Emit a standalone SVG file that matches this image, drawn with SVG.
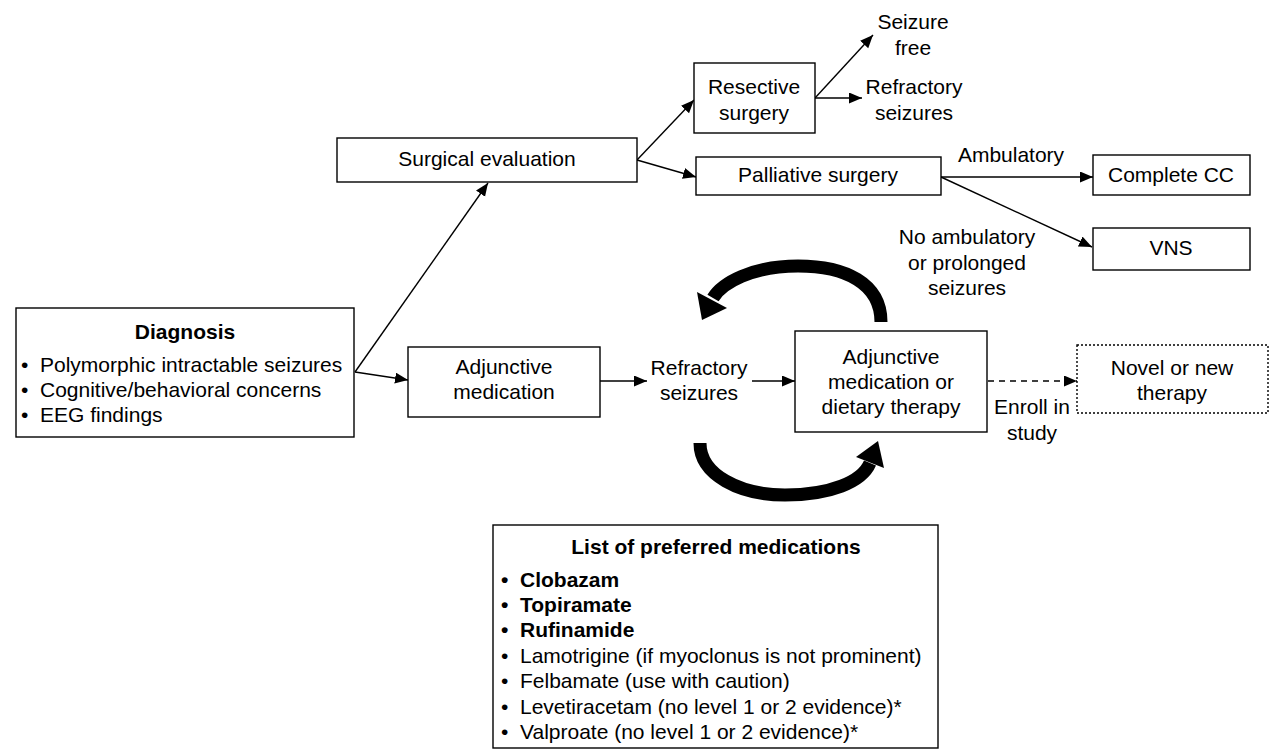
<svg xmlns="http://www.w3.org/2000/svg" width="1270" height="751" viewBox="0 0 1270 751">
<defs>
<style>
text{font-family:"Liberation Sans",Arial,sans-serif;font-size:21px;fill:#000}
.c{text-anchor:middle}
.b{font-weight:bold}
.box{fill:#fff;stroke:#000;stroke-width:1.4}
.dot{fill:#fff;stroke:#000;stroke-width:1.4;stroke-dasharray:2 2}
.ln{fill:none;stroke:#000;stroke-width:1.4}
.dash{fill:none;stroke:#000;stroke-width:1.4;stroke-dasharray:6 5}
.thick{fill:none;stroke:#000;stroke-width:13}
</style>
<marker id="ah" markerUnits="userSpaceOnUse" markerWidth="14" markerHeight="12" refX="13" refY="5.5" orient="auto">
<path d="M0,0 L13,5.5 L0,11 z" fill="#000"/>
</marker>
</defs>
<rect width="1270" height="751" fill="#fff"/>

<g id="connectors">
<line class="ln" x1="355" y1="372" x2="488" y2="183" marker-end="url(#ah)"/>
<line class="ln" x1="355" y1="372" x2="408" y2="380" marker-end="url(#ah)"/>
<line class="ln" x1="637" y1="160" x2="694" y2="100" marker-end="url(#ah)"/>
<line class="ln" x1="637" y1="160" x2="696" y2="177" marker-end="url(#ah)"/>
<line class="ln" x1="815" y1="98" x2="873" y2="35" marker-end="url(#ah)"/>
<line class="ln" x1="815" y1="98" x2="862" y2="98" marker-end="url(#ah)"/>
<line class="ln" x1="941" y1="177" x2="1093" y2="177" marker-end="url(#ah)"/>
<line class="ln" x1="941" y1="177" x2="1092" y2="247" marker-end="url(#ah)"/>
<line class="ln" x1="600" y1="381" x2="647" y2="381" marker-end="url(#ah)"/>
<line class="ln" x1="752" y1="381" x2="795" y2="381" marker-end="url(#ah)"/>
<line class="dash" x1="988" y1="381" x2="1077" y2="381" marker-end="url(#ah)"/>
<path class="thick" d="M881 322 C881 283 845 266 798 266 C752 266 722 283 713 298"/>
<polygon points="727,308 697,292 702,320" fill="#000"/>
<path class="thick" d="M700 443 C700 475 740 495 785 495 C830 495 862 482 870 463"/>
<polygon points="884,468 856,457 878,441" fill="#000"/>
</g>

<g id="diagnosis">
<rect class="box" x="16" y="308" width="338" height="129"/>
<text class="c b" x="185" y="339">Diagnosis</text>
<text><tspan x="21" y="372">•</tspan><tspan x="40" y="372">Polymorphic intractable seizures</tspan></text>
<text><tspan x="21" y="397">•</tspan><tspan x="40" y="397">Cognitive/behavioral concerns</tspan></text>
<text><tspan x="21" y="422">•</tspan><tspan x="40" y="422">EEG findings</tspan></text>
</g>

<g id="surgical-evaluation">
<rect class="box" x="337" y="138" width="300" height="44"/>
<text class="c" x="487" y="166">Surgical evaluation</text>
</g>

<g id="resective-surgery">
<rect class="box" x="694" y="63" width="121" height="70"/>
<text class="c" x="754" y="94">Resective</text>
<text class="c" x="754" y="120">surgery</text>
</g>

<g id="seizure-free">
<text class="c" x="913" y="29">Seizure</text>
<text class="c" x="913" y="55">free</text>
</g>

<g id="refractory-seizures-top">
<text class="c" x="914" y="94">Refractory</text>
<text class="c" x="914" y="120">seizures</text>
</g>

<g id="palliative-surgery">
<rect class="box" x="696" y="157" width="245" height="38"/>
<text class="c" x="818" y="182">Palliative surgery</text>
</g>

<g id="labels-palliative">
<text class="c" x="1011" y="162">Ambulatory</text>
<text class="c" x="967" y="244">No ambulatory</text>
<text class="c" x="967" y="270">or prolonged</text>
<text class="c" x="967" y="295">seizures</text>
</g>

<g id="complete-cc">
<rect class="box" x="1093" y="155" width="157" height="40"/>
<text class="c" x="1171" y="182">Complete CC</text>
</g>

<g id="vns">
<rect class="box" x="1093" y="228" width="157" height="42"/>
<text class="c" x="1171" y="255">VNS</text>
</g>

<g id="adjunctive-medication">
<rect class="box" x="408" y="347" width="192" height="70"/>
<text class="c" x="504" y="374">Adjunctive</text>
<text class="c" x="504" y="399">medication</text>
</g>

<g id="refractory-seizures">
<text class="c" x="699" y="375">Refractory</text>
<text class="c" x="699" y="400">seizures</text>
</g>

<g id="adjunctive-or-dietary">
<rect class="box" x="795" y="331" width="192" height="101"/>
<text class="c" x="891" y="364">Adjunctive</text>
<text class="c" x="891" y="389">medication or</text>
<text class="c" x="891" y="414">dietary therapy</text>
</g>

<g id="enroll-label">
<text class="c" x="1032" y="414">Enroll in</text>
<text class="c" x="1032" y="440">study</text>
</g>

<g id="novel-therapy">
<rect class="dot" x="1077" y="345" width="191" height="68"/>
<text class="c" x="1172" y="375">Novel or new</text>
<text class="c" x="1172" y="400">therapy</text>
</g>

<g id="preferred-medications">
<rect class="box" x="493" y="525" width="445" height="223"/>
<text class="c b" x="716" y="554">List of preferred medications</text>
<text class="b"><tspan x="501" y="587">•</tspan><tspan x="520" y="587">Clobazam</tspan></text>
<text class="b"><tspan x="501" y="612">•</tspan><tspan x="520" y="612">Topiramate</tspan></text>
<text class="b"><tspan x="501" y="637">•</tspan><tspan x="520" y="637">Rufinamide</tspan></text>
<text><tspan x="501" y="663">•</tspan><tspan x="520" y="663">Lamotrigine (if myoclonus is not prominent)</tspan></text>
<text><tspan x="501" y="688">•</tspan><tspan x="520" y="688">Felbamate (use with caution)</tspan></text>
<text><tspan x="501" y="714">•</tspan><tspan x="520" y="714">Levetiracetam (no level 1 or 2 evidence)*</tspan></text>
<text><tspan x="501" y="739">•</tspan><tspan x="520" y="739">Valproate (no level 1 or 2 evidence)*</tspan></text>
</g>
</svg>
